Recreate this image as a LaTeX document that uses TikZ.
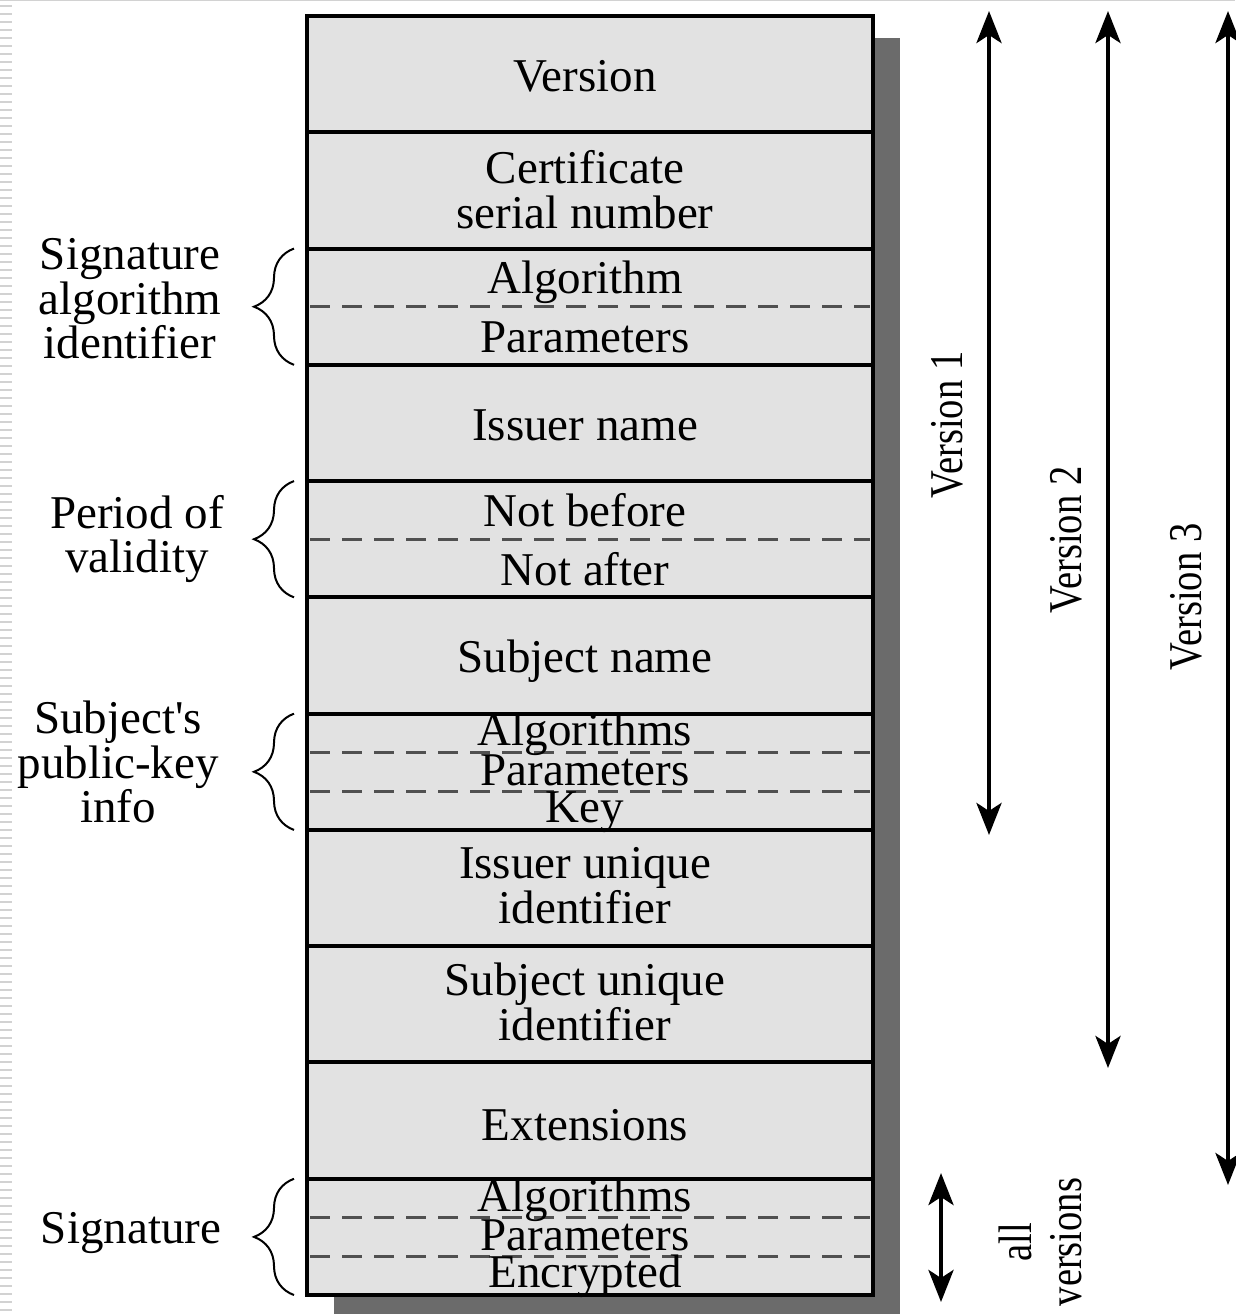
\documentclass[tikz,border=0pt]{standalone}
\usepackage{fontspec}
\setmainfont{Liberation Serif}
\newfontfamily\plainserif[Ligatures=Common]{Liberation Serif}
\usetikzlibrary{arrows.meta,calc,decorations.pathreplacing}
\definecolor{fieldgray}{HTML}{E2E2E2}
\definecolor{shadowgray}{HTML}{6B6B6B}
\definecolor{dashgray}{HTML}{505050}
\definecolor{stripegray}{HTML}{D2D2D2}
\begin{document}
\begin{tikzpicture}[x=1pt,y=-1pt,
  field/.style={draw=black, line width=4pt, fill=fieldgray, minimum width=566pt,
    minimum height=116.27pt, inner sep=0pt, outer sep=0pt},
  ftext/.style={font=\fontsize{47}{45}\selectfont, inner sep=0pt,
    text height=31pt, text depth=0pt},
  mtext/.style={font=\fontsize{47}{45}\selectfont, align=center, inner sep=0pt},
  ltext/.style={font=\fontsize{47}{44.5}\selectfont, align=center, inner sep=0pt},
  rtext/.style={font=\fontsize{47}{50}\selectfont, align=center, inner sep=0pt, rotate=90},
  subdash/.style={draw=dashgray, line width=3pt, dash pattern=on 20pt off 12pt},
  bracedeco/.style={draw=black, line width=2pt,
    decorate, decoration={brace, amplitude=40pt, aspect=0.5}},
  dimarrow/.style={draw=black, line width=4.5pt,
    {Stealth[length=32pt,width=25pt,inset=8pt]}-{Stealth[length=32pt,width=25pt,inset=8pt]}},
  stripe/.style={draw=stripegray, line width=2pt}
]
\useasboundingbox (0,0) rectangle (1235,1314);
% frame artefacts of the slide
\draw[stripegray, line width=1.5pt] (0,0.75) -- (1235,0.75);
\foreach \yy in {6,14,...,1310} \draw[stripe] (0,\yy) -- (12,\yy);

% shadow
\fill[shadowgray] (334,38) rectangle (900,1320);

% fields
\node[field] (ver)  at (590,74.1)   {};
\node[field] (ser)  at (590,190.4)  {};
\node[field] (sal)  at (590,306.7)  {};
\node[field] (iss)  at (590,422.9)  {};
\node[field] (val)  at (590,539.2)  {};
\node[field] (sub)  at (590,655.5)  {};
\node[field] (spk)  at (590,771.8)  {};
\node[field] (iuid) at (590,888.0)  {};
\node[field] (suid) at (590,1004.3) {};
\node[field] (ext)  at (590,1120.6) {};
\node[field] (sig)  at (590,1236.9) {};

% dashed sub-field separators
\draw[subdash] ([xshift=3pt]sal.west) -- ([xshift=-3pt]sal.east);
\draw[subdash] ([xshift=3pt]val.west) -- ([xshift=-3pt]val.east);
\draw[subdash] ($(spk.north west)!1/3!(spk.south west)+(3,0)$) -- ($(spk.north east)!1/3!(spk.south east)+(-3,0)$);
\draw[subdash] ($(spk.north west)!2/3!(spk.south west)+(3,0)$) -- ($(spk.north east)!2/3!(spk.south east)+(-3,0)$);
\draw[subdash] ($(sig.north west)!1/3!(sig.south west)+(3,0)$) -- ($(sig.north east)!1/3!(sig.south east)+(-3,0)$);
\draw[subdash] ($(sig.north west)!2/3!(sig.south west)+(3,0)$) -- ($(sig.north east)!2/3!(sig.south east)+(-3,0)$);

% field texts
\node[ftext] (tver) at (585,76) {Version};
\node[mtext] (tser) at (585,190) {Certificate\\serial number};
\node[ftext] (tsa1) at (585,278) {Algorithm};
\node[ftext] (tsa2) at (585,337) {Parameters};
\node[ftext] (tiss) at (585,425) {Issuer name};
\node[ftext] (tva1) at (585,511) {Not before};
\node[ftext] (tva2) at (585,570) {Not after};
\node[ftext] (tsub) at (585,657) {Subject name};
\node[ftext] (tsp1) at (585,730) {Algorithms};
\node[ftext] (tsp2) at (585,770) {Parameters};
\node[ftext] (tsp3) at (585,807) {Key};
\node[mtext] (tiu)  at (585,886) {Issuer unique\\identifier};
\node[mtext] (tsu)  at (585,1002) {Subject unique\\identifier};
\node[ftext] (text) at (585,1125) {Extensions};
\node[ftext] (tsg1) at (585,1196) {Algorithms};
\node[ftext] (tsg2) at (585,1235) {Parameters};
\node[ftext] (tsg3) at (585,1272) {Encrypted};

% left labels and braces
\node[ltext] (lsal) at (130,299) {Signature\\algorithm\\identifier};
\node[ltext] (lval) at (137,539) {Period of\\validity};
\node[ltext] (lspk) at (118,762) {Subject{\plainserif'}s\\public-key\\info};
\node[ftext] (lsig) at (131,1228) {Signature};

\draw[bracedeco] ([xshift=-13pt]sal.south west) -- ([xshift=-13pt]sal.north west);
\draw[bracedeco] ([xshift=-13pt]val.south west) -- ([xshift=-13pt]val.north west);
\draw[bracedeco] ([xshift=-13pt]spk.south west) -- ([xshift=-13pt]spk.north west);
\draw[bracedeco] ([xshift=-13pt]sig.south west) -- ([xshift=-13pt]sig.north west);

% version extents
\coordinate (v1t) at (989,11);   \coordinate (v1b) at (989,835);
\coordinate (v2t) at (1108,11);  \coordinate (v2b) at (1108,1068);
\coordinate (v3t) at (1228,11);  \coordinate (v3b) at (1228,1185);
\coordinate (avt) at (941,1173); \coordinate (avb) at (941,1302);
\draw[dimarrow] (v1t) -- (v1b);
\draw[dimarrow] (v2t) -- (v2b);
\draw[dimarrow] (v3t) -- (v3b);
\draw[dimarrow] (avt) -- (avb);

\node[rtext, text height=31pt, text depth=0pt] (lv1) at (947,425) {\scalebox{0.82}[1]{Version 1}};
\node[rtext, text height=31pt, text depth=0pt] (lv2) at (1066,540) {\scalebox{0.82}[1]{Version 2}};
\node[rtext, text height=31pt, text depth=0pt] (lv3) at (1186,597) {\scalebox{0.82}[1]{Version 3}};
\node[rtext] (lav) at (1040,1242) {\scalebox{0.82}[1]{all}\\\scalebox{0.82}[1]{versions}};
\end{tikzpicture}
\end{document}
